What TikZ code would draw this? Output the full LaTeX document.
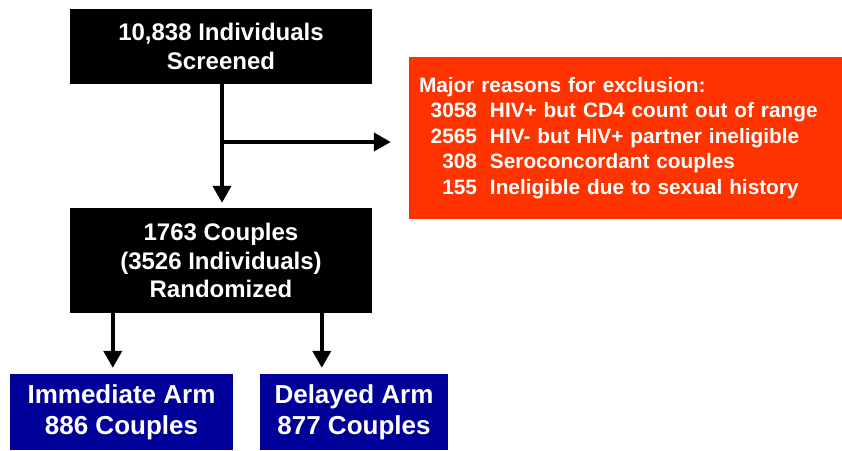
\documentclass[tikz,border=0pt]{standalone}
\usepackage{fontspec}
\setmainfont{Liberation Sans}
\usetikzlibrary{arrows.meta}
\definecolor{exred}{RGB}{255,51,0}
\definecolor{armblue}{RGB}{0,0,153}
\begin{document}
\begin{tikzpicture}[x=1pt,y=-1pt,
  blackbox/.style={fill=black, text=white, inner sep=0pt, align=center,
    font=\bfseries\fontsize{24}{28.5}\selectfont},
  redbox/.style={fill=exred, text=white, inner sep=0pt, inner xsep=10pt,
    text width=413pt, align=left, font=\bfseries\fontsize{20.8}{25.5}\selectfont},
  bluebox/.style={fill=armblue, text=white, inner sep=0pt, align=center,
    font=\bfseries\fontsize{26}{31}\selectfont},
  arr/.style={line width=4pt, draw=black, -{Triangle[length=17pt,width=18pt]}}]
\useasboundingbox (0,0) rectangle (842,450);
\node[blackbox, minimum width=302pt, minimum height=75pt] (top) at (221,46.5)
  {10,838 Individuals\\Screened};
\node[blackbox, minimum width=302pt, minimum height=105pt] (mid) at (221,260.5)
  {1763 Couples\\(3526 Individuals)\\Randomized};
\node[redbox, minimum height=162pt] (excl) at (625.5,138)
  {Major reasons for exclusion:\\
   \makebox[58pt][r]{3058}\hspace{13pt}HIV+ but CD4 count out of range\\
   \makebox[58pt][r]{2565}\hspace{13pt}HIV- but HIV+ partner ineligible\\
   \makebox[58pt][r]{308}\hspace{13pt}Seroconcordant couples\\
   \makebox[58pt][r]{155}\hspace{13pt}Ineligible due to sexual history};
\node[bluebox, minimum width=223pt, minimum height=76pt] (imm) at (121.5,412)
  {Immediate Arm\\886 Couples};
\node[bluebox, minimum width=188pt, minimum height=76pt] (del) at (354,412)
  {Delayed Arm\\877 Couples};
\coordinate (br) at (222,142);
\draw[arr, shorten >=5pt] ([xshift=1pt]top.south) -- ([xshift=1pt]mid.north);
\draw[arr, shorten >=18pt] (br) -- (br -| excl.west);
\coordinate (m1) at ([xshift=43pt]mid.south west);
\coordinate (m2) at ([xshift=252pt]mid.south west);
\draw[arr, shorten >=6pt] (m1) -- (m1 |- imm.north);
\draw[arr, shorten >=6pt] (m2) -- (m2 |- del.north);
\end{tikzpicture}
\end{document}
